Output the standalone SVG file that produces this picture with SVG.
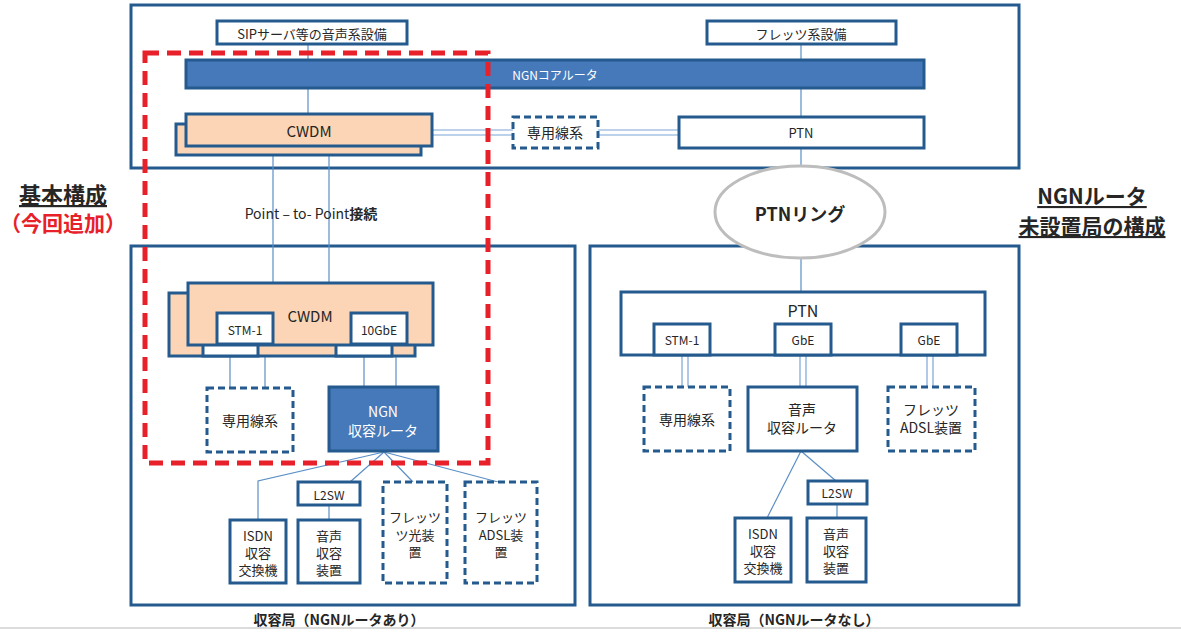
<svg xmlns="http://www.w3.org/2000/svg" width="1181" height="632" viewBox="0 0 1181 632">
<style>
.box{fill:#fff;stroke:#245a8d;stroke-width:3}
.dbox{fill:#fff;stroke:#245a8d;stroke-width:3;stroke-dasharray:7 4}
.blue{fill:#4679b9;stroke:#245a8d;stroke-width:3}
.peach{fill:#fbd5b5;stroke:#245a8d;stroke-width:3}
.frame{fill:none;stroke:#245a8d;stroke-width:3}
.ln{stroke:#5b8fc7;stroke-width:1.2;fill:none}
.dl{stroke:#7aa6d8;stroke-width:1.2;fill:none}
text{font-family:'Noto Sans CJK JP',sans-serif;fill:#262626;text-anchor:middle;dominant-baseline:central}
.s12{font-size:12px}.s13{font-size:13px}.s14{font-size:14px}.s15{font-size:15px}
.w{fill:#fff}
.b{font-weight:bold}
</style>
<rect width="1181" height="632" fill="#fff"/>
<line x1="0" y1="628" x2="1181" y2="628" stroke="#cfcfcf" stroke-width="1.5"/>

<g id="frames">
<rect class="frame" x="131" y="5" width="888" height="163"/>
<rect class="frame" x="131" y="246" width="444" height="359"/>
<rect class="frame" x="590" y="246" width="429" height="359"/>
</g>

<g id="connectors">
<line class="ln" x1="308" y1="44" x2="308" y2="114"/>
<line class="ln" x1="801" y1="44" x2="801" y2="117"/>
<line class="ln" x1="801" y1="148" x2="801" y2="170"/>
<line class="ln" x1="273" y1="155" x2="273" y2="283"/>
<line class="ln" x1="329" y1="155" x2="329" y2="283"/>
<line class="dl" x1="432" y1="130" x2="513" y2="130"/>
<line class="dl" x1="432" y1="135" x2="513" y2="135"/>
<line class="dl" x1="598" y1="130" x2="679" y2="130"/>
<line class="dl" x1="598" y1="135" x2="679" y2="135"/>
<line class="ln" x1="801" y1="255" x2="801" y2="292"/>
<line class="ln" x1="230" y1="356" x2="230" y2="388"/>
<line class="ln" x1="265" y1="356" x2="265" y2="388"/>
<line class="ln" x1="364" y1="356" x2="364" y2="387"/>
<line class="ln" x1="396" y1="356" x2="396" y2="387"/>
<polyline class="ln" points="384,452 258,481 258,520"/>
<line class="ln" x1="384" y1="452" x2="350" y2="482"/>
<line class="ln" x1="384" y1="452" x2="413" y2="482"/>
<line class="ln" x1="384" y1="452" x2="498" y2="482"/>
<line class="ln" x1="329" y1="505" x2="329" y2="520"/>
<line class="dl" x1="682" y1="355" x2="682" y2="387"/>
<line class="dl" x1="688" y1="355" x2="688" y2="387"/>
<line class="dl" x1="800" y1="355" x2="800" y2="387"/>
<line class="dl" x1="806" y1="355" x2="806" y2="387"/>
<line class="dl" x1="927" y1="355" x2="927" y2="387"/>
<line class="dl" x1="933" y1="355" x2="933" y2="387"/>
<line class="ln" x1="801" y1="451" x2="767" y2="518"/>
<line class="ln" x1="801" y1="451" x2="836" y2="481"/>
<line class="ln" x1="837" y1="504" x2="837" y2="518"/>
</g>

<g id="sip"><rect class="box" x="217" y="21" width="190" height="23"/><text class="s13" x="312" y="33">SIPサーバ等の音声系設備</text></g>
<g id="flets-eq"><rect class="box" x="707" y="21" width="189" height="23"/><text class="s13" x="801" y="33">フレッツ系設備</text></g>
<g id="ngn-core"><rect class="blue" x="186" y="60" width="738" height="28"/><text class="s12 w" x="555" y="74">NGNコアルータ</text></g>
<g id="cwdm-top"><rect class="peach" x="176" y="124" width="245" height="31"/><rect class="peach" x="186" y="114" width="246" height="32"/><text class="s15" x="309" y="130">CWDM</text></g>
<g id="leased-top"><rect class="dbox" x="513" y="117" width="85" height="31"/><text class="s14" x="555" y="132">専用線系</text></g>
<g id="ptn-top"><rect class="box" x="679" y="117" width="245" height="31"/><text class="s13" x="801" y="132">PTN</text></g>

<g id="cwdm-low">
<rect class="peach" x="169" y="293" width="246" height="63"/>
<rect class="box" x="203" y="324" width="55" height="32"/>
<rect class="box" x="336" y="324" width="56" height="32"/>
<rect class="peach" x="188" y="283" width="245" height="62"/>
<text class="s15" x="310" y="315">CWDM</text>
<rect class="box" x="217" y="313" width="56" height="31"/><text class="s12" x="245" y="329">STM-1</text>
<rect class="box" x="351" y="313" width="56" height="31"/><text class="s12" x="379" y="329">10GbE</text>
</g>
<g id="leased-low"><rect class="dbox" x="207" y="388" width="86" height="64"/><text class="s14" x="250" y="420">専用線系</text></g>
<g id="ngn-access"><rect class="blue" x="329" y="387" width="109" height="64"/><text class="s14 w" x="383" y="411">NGN</text><text class="s14 w" x="383" y="430">収容ルータ</text></g>
<g id="l2sw-a"><rect class="box" x="298" y="482" width="62" height="23"/><text class="s12" x="329" y="494">L2SW</text></g>
<g id="isdn-a"><rect class="box" x="230" y="520" width="56" height="63"/><text class="s13" x="258" y="535">ISDN</text><text class="s13" x="258" y="552">収容</text><text class="s13" x="258" y="569">交換機</text></g>
<g id="voice-a"><rect class="box" x="298" y="520" width="62" height="63"/><text class="s13" x="329" y="535">音声</text><text class="s13" x="329" y="552">収容</text><text class="s13" x="329" y="569">装置</text></g>
<g id="flets-hikari"><rect class="dbox" x="383" y="482" width="64" height="101"/><text class="s13" x="415" y="516">フレッツ</text><text class="s13" x="415" y="534">ツ光装</text><text class="s13" x="415" y="551">置</text></g>
<g id="flets-adsl-a"><rect class="dbox" x="465" y="482" width="72" height="101"/><text class="s13" x="501" y="516">フレッツ</text><text class="s13" x="501" y="534">ADSL装</text><text class="s13" x="501" y="551">置</text></g>

<g id="ptn-low">
<rect class="box" x="621" y="292" width="364" height="63"/>
<text font-size="16" x="803" y="310">PTN</text>
<rect class="box" x="654" y="324" width="56" height="31"/><text class="s12" x="682" y="339">STM-1</text>
<rect class="box" x="775" y="324" width="56" height="31"/><text class="s12" x="803" y="339">GbE</text>
<rect class="box" x="901" y="324" width="56" height="31"/><text class="s12" x="929" y="339">GbE</text>
</g>
<g id="leased-r"><rect class="dbox" x="644" y="387" width="86" height="64"/><text class="s14" x="687" y="419">専用線系</text></g>
<g id="voice-router"><rect class="box" x="748" y="387" width="109" height="64"/><text class="s14" x="802" y="409">音声</text><text class="s14" x="802" y="427">収容ルータ</text></g>
<g id="flets-adsl-r"><rect class="dbox" x="888" y="387" width="87" height="64"/><text class="s14" x="931" y="409">フレッツ</text><text class="s14" x="931" y="427">ADSL装置</text></g>
<g id="l2sw-r"><rect class="box" x="808" y="481" width="59" height="23"/><text class="s12" x="837" y="492">L2SW</text></g>
<g id="isdn-r"><rect class="box" x="735" y="518" width="56" height="64"/><text class="s13" x="763" y="533">ISDN</text><text class="s13" x="763" y="550">収容</text><text class="s13" x="763" y="567">交換機</text></g>
<g id="voice-r"><rect class="box" x="807" y="518" width="59" height="64"/><text class="s13" x="836" y="533">音声</text><text class="s13" x="836" y="550">収容</text><text class="s13" x="836" y="567">装置</text></g>

<g id="ptn-ring"><ellipse cx="800" cy="212" rx="85" ry="46" fill="#fff" stroke="#bdbdbd" stroke-width="3"/><text class="b" font-size="18" x="800" y="213">PTNリング</text></g>

<g id="labels">
<text class="s14" x="311" y="213">Point – to- Point<tspan class="b">接続</tspan></text>
<text class="b" font-size="22" x="63" y="193" text-decoration="underline">基本構成</text>
<text class="b" font-size="21" x="63" y="222" style="fill:#e8202a">（今回追加）</text>
<text class="b" font-size="21" x="1092" y="195" text-decoration="underline">NGNルータ</text>
<text class="b" font-size="21" x="1092" y="225" text-decoration="underline">未設置局の構成</text>
<text class="b s14" x="339" y="619">収容局（NGNルータあり）</text>
<text class="b s14" x="794" y="619">収容局（NGNルータなし）</text>
</g>

<g id="basic-config-outline"><rect x="145" y="53" width="343" height="410" fill="none" stroke="#e8202a" stroke-width="5" stroke-dasharray="14 8"/></g>
</svg>
